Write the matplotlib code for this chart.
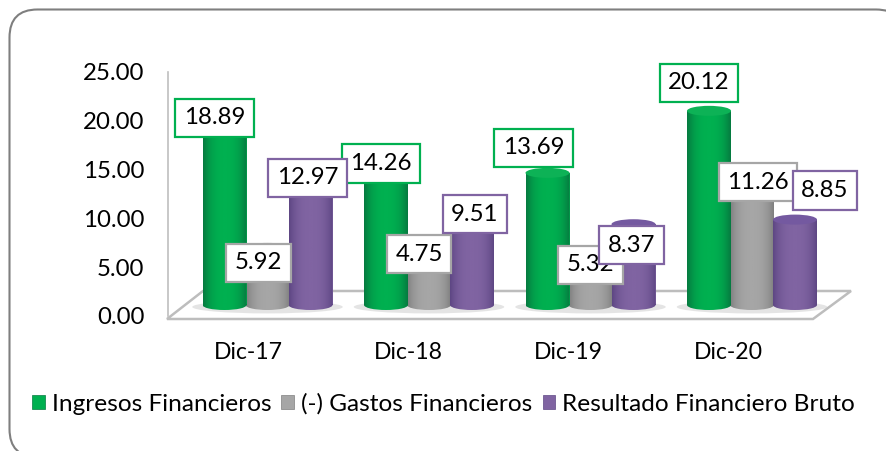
import numpy as np
import matplotlib
matplotlib.use("Agg")
import matplotlib.pyplot as plt
from matplotlib.colors import LinearSegmentedColormap
from matplotlib.patches import Ellipse, FancyBboxPatch, Patch, Polygon
from matplotlib.path import Path
from matplotlib.transforms import Affine2D

categories = ["Dic-17", "Dic-18", "Dic-19", "Dic-20"]
ingresos = [18.89, 14.26, 13.69, 20.12]
gastos = [5.92, 4.75, 5.32, 11.26]
resultado = [12.97, 9.51, 8.37, 8.85]
series_names = ["Ingresos Financieros", "(-) Gastos Financieros", "Resultado Financiero Bruto"]
y_ticks = [0, 5, 10, 15, 20, 25]

W, H = 886, 451
FONT = "Lato"
FS = 17.3
plt.rcParams["font.family"] = [FONT, "DejaVu Sans"]

series = [ingresos, gastos, resultado]
colors = ["#00B050", "#A6A6A6", "#8064A2"]
dark = ["#067A40", "#808080", "#5E4784"]
light = ["#0DB256", "#B4B4B4", "#7459A0"]
box_edges = ["#00B050", "#A6A6A6", "#8064A2"]
# label offsets from the top of each bar, pixels (right, up)
label_dx = [[-10, -5, -14, -10], [-9, -10, 0, 6], [-3, 3, -2, 30]]
label_dy = [[5, 4, 25, 28], [-15, 5, -11, 14], [2, -1, -21, 29]]

fig = plt.figure(figsize=(W / 100, H / 100), dpi=100, facecolor="white")

def rect(x0, ytop, x1, ybot):
    return [x0 / W, 1 - ybot / H, (x1 - x0) / W, (ybot - ytop) / H]

# frame (runs off the right and bottom of the picture) and floor
px = Affine2D().scale(1 / W, -1 / H).translate(0, 1) + fig.transFigure
fig.add_artist(FancyBboxPatch((9.5, 9.5), 894.5, 447.5, boxstyle="round,pad=0,rounding_size=28", transform=px,
                              fc="white", ec="#7F7F7F", lw=1.5, zorder=-3))
fig.add_artist(Polygon([(167, 319), (203, 291), (851, 291), (813, 319)], closed=True, transform=px,
                       fc="white", ec="#BDBDBD", lw=1.8, zorder=-2))

# axis frame: value axis and categories
ax = fig.add_axes(rect(168, 72, 808, 316))
ax.set_xlim(-0.5, 3.5)
ax.set_ylim(0, 25)
ax.patch.set_alpha(0)
ax.set_yticks(y_ticks)
ax.set_yticklabels([f"{t:.2f}" for t in y_ticks], fontsize=FS, color="black")
ax.set_xticks(range(len(categories)))
ax.set_xticklabels(categories, fontsize=FS * 0.96, color="black")
ax.tick_params(length=0, axis="y", pad=17)
ax.tick_params(length=0, axis="x", pad=19)
for s in ["top", "right", "bottom"]:
    ax.spines[s].set_visible(False)
ax.spines["left"].set_color("#BFBFBF")
ax.spines["left"].set_linewidth(1.2)

# bars
bx = fig.add_axes([0, 0, 1, 1])
bx.patch.set_alpha(0)
bx.axis("off")
SP, CX, PXU, Y0 = 161.5, 267.5, 9.65, 305
w = 44 / SP
step = 43 / SP
eh = 10 / PXU
t = np.linspace(0, 1, 64)
prof = np.abs(2 * t - 1) ** 2.6
for s, vals in enumerate(series):
    cmap = LinearSegmentedColormap.from_list(f"c{s}", [colors[s], dark[s]])
    for i, v in enumerate(vals):
        xc = i + (s - 1) * step
        if s == 0:
            bx.add_patch(Ellipse((i, -0.2), 3.5 * step, 13 / PXU, fc="#CFCFCF", ec="none", alpha=0.55, zorder=1))
        zo = 3 + (1 if s != 1 else 0)
        bar = bx.bar(xc, v, w, bottom=0, color=colors[s], zorder=zo)[0]
        body = Path.make_compound_path(
            Path.unit_rectangle().transformed(Affine2D().scale(w, v).translate(xc - w / 2, 0)),
            Path.unit_circle().transformed(Affine2D().scale(w / 2, eh / 2).translate(xc, 0)),
        )
        im = bx.imshow(prof[None, :], cmap=cmap, vmin=0, vmax=1, aspect="auto", zorder=zo + 0.1,
                       extent=[xc - w / 2, xc + w / 2, -eh, v], interpolation="bilinear")
        im.set_clip_path(body, bx.transData)
        bx.add_patch(Ellipse((xc, v), w, eh, fc=light[s], ec="none", zorder=zo + 0.2))
bx.set_xlim(-CX / SP, (W - CX) / SP)
bx.set_ylim((Y0 - H) / PXU, Y0 / PXU)

# value labels
for s, vals in enumerate(series):
    for i, v in enumerate(vals):
        xc = i + (s - 1) * step
        bx.annotate(f"{v:.2f}", (xc, v), xytext=(label_dx[s][i] * 0.72, label_dy[s][i] * 0.72),
                    textcoords="offset points", ha="center", va="center", fontsize=FS, color="black",
                    zorder=10 + s,
                    bbox=dict(boxstyle="square,pad=0.36", fc="white", ec=box_edges[s], lw=1.6))

# legend
handles = [Patch(fc=c, ec=d, lw=0.5) for c, d in zip(colors, dark)]
fig.legend(handles, series_names, loc="center left", bbox_to_anchor=(32 / W, 1 - 404 / H), ncol=3,
           frameon=False, fontsize=17.6, handlelength=0.52, handleheight=0.52, handletextpad=0.28,
           columnspacing=0.42, borderpad=0, borderaxespad=0)

fig.savefig("out.png", dpi=100)
